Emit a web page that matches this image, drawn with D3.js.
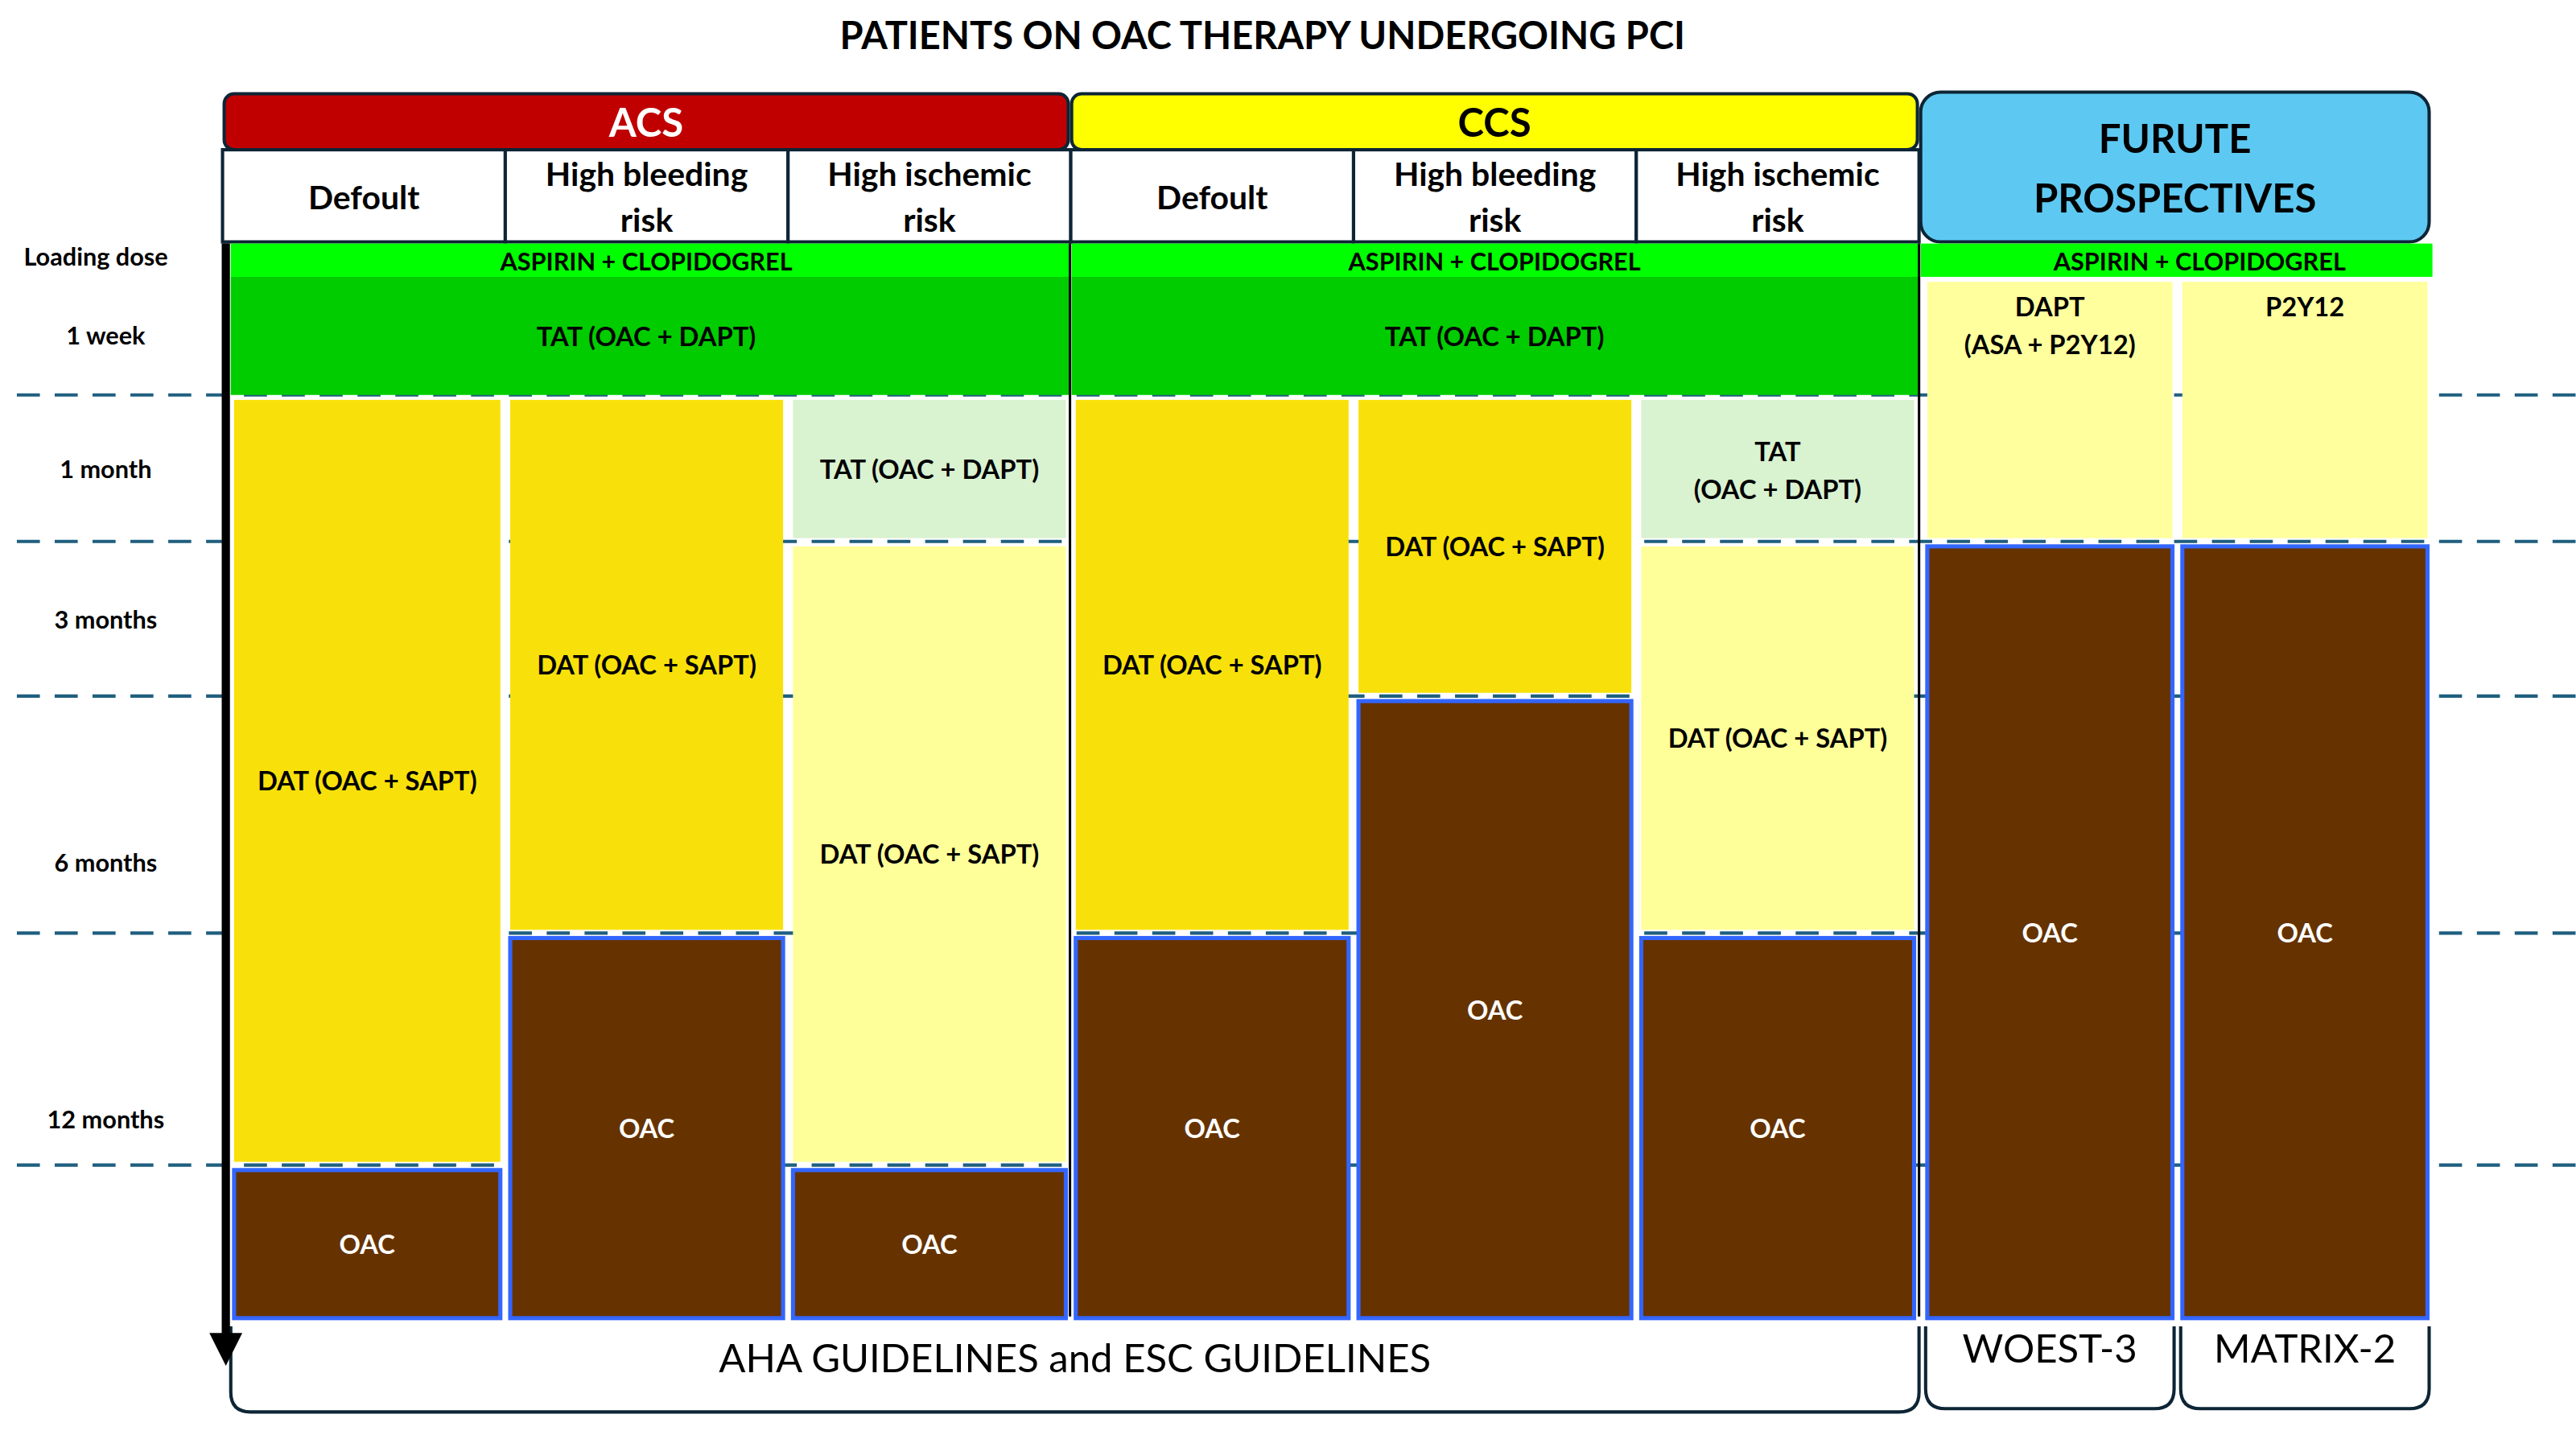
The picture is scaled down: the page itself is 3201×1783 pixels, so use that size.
<!doctype html>
<html>
<head>
<script src="https://d3js.org/d3.v7.min.js"></script>
<style>body{margin:0;background:#fff}</style>
</head>
<body>
<div id="chart"></div>
<script>
// time points: 0 start, 1 end of 1 week, 2 1 month, 3 3 months, 4 6 months, 5 12 months, 6 end
var timeLabels = ["Loading dose", "1 week", "1 month", "3 months", "6 months", "12 months"];
var timeLabelPos = [0.08, 0.6, 1.5, 2.5, 3.7, 4.8];
var dashAt = [1, 2, 3, 4, 5];

var groups = ["ACS", "CCS", "FUTURE"];
var groupTitles = [["ACS"], ["CCS"], ["FURUTE", "PROSPECTIVES"]];
var groupColors = ["#C00000", "#FFFF00", "#5DC9F2"];
var groupText = ["#fff", "#000", "#000"];
var columns = ["ACS-0", "ACS-1", "ACS-2", "CCS-0", "CCS-1", "CCS-2", "F-0", "F-1"];
var colTitles = [["Defoult"], ["High bleeding", "risk"], ["High ischemic", "risk"],
                 ["Defoult"], ["High bleeding", "risk"], ["High ischemic", "risk"]];

// segments: column, start, end, kind, label
var segments = [
  ["ACS-0", 1, 5, "dat", ["DAT (OAC + SAPT)"]], ["ACS-0", 5, 6, "oac", ["OAC"]],
  ["ACS-1", 1, 4, "dat", ["DAT (OAC + SAPT)"]], ["ACS-1", 4, 6, "oac", ["OAC"]],
  ["ACS-2", 1, 2, "tat", ["TAT (OAC + DAPT)"]], ["ACS-2", 2, 5, "datl", ["DAT (OAC + SAPT)"]], ["ACS-2", 5, 6, "oac", ["OAC"]],
  ["CCS-0", 1, 4, "dat", ["DAT (OAC + SAPT)"]], ["CCS-0", 4, 6, "oac", ["OAC"]],
  ["CCS-1", 1, 3, "dat", ["DAT (OAC + SAPT)"]], ["CCS-1", 3, 6, "oac", ["OAC"]],
  ["CCS-2", 1, 2, "tat", ["TAT", "(OAC + DAPT)"]], ["CCS-2", 2, 4, "datl", ["DAT (OAC + SAPT)"]], ["CCS-2", 4, 6, "oac", ["OAC"]],
  ["F-0", 0.22, 2, "dapt", ["DAPT", "(ASA + P2Y12)"]], ["F-0", 2, 6, "oac", ["OAC"]],
  ["F-1", 0.22, 2, "dapt", ["P2Y12"]], ["F-1", 2, 6, "oac", ["OAC"]]
];
var bands = [ // group, start, end, colour, label
  ["ACS", 0, 0.22, "#00FF00", "ASPIRIN + CLOPIDOGREL"], ["ACS", 0.22, 1, "#00CC00", "TAT (OAC + DAPT)"],
  ["CCS", 0, 0.22, "#00FF00", "ASPIRIN + CLOPIDOGREL"], ["CCS", 0.22, 1, "#00CC00", "TAT (OAC + DAPT)"],
  ["FUTURE", 0, 0.22, "#00FF00", "ASPIRIN + CLOPIDOGREL"]
];
var footers = [["AHA GUIDELINES and ESC GUIDELINES", ["ACS", "CCS"]], ["WOEST-3", ["F-0"]], ["MATRIX-2", ["F-1"]]];

var fills = {dat: "#F8E10A", datl: "#FFFF99", tat: "#D9F2D0", dapt: "#FFFF9E", oac: "#663300"};

var W = 1565, H = 872;
var svg = d3.select("#chart").append("svg")
  .attr("width", 3201).attr("height", 1783).attr("viewBox", "0 0 " + W + " " + H)
  .style("font-family", "Lato, 'Open Sans', sans-serif");

var y = d3.scaleLinear().domain([0, 1, 2, 3, 4, 5, 6]).range([148, 240, 329, 423, 567, 708, 803]);
var gx = d3.scaleOrdinal().domain(groups).range([[135, 650], [650, 1166], [1166, 1477]]);
var cx = d3.scaleBand().domain(columns.slice(0, 6)).range([135, 1166]);
var fx = d3.scaleBand().domain(columns.slice(6)).range([1168, 1478]);
function colX(c) { return c[0] === "F" ? fx(c) : cx(c); }
function colW(c) { return c[0] === "F" ? fx.bandwidth() : cx.bandwidth(); }
function grpOf(c) { return c[0] === "F" ? "FUTURE" : c.slice(0, 3); }

svg.append("text").attr("x", 767).attr("y", 30).attr("text-anchor", "middle")
  .attr("font-size", 23).attr("font-weight", "bold").text("PATIENTS ON OAC THERAPY UNDERGOING PCI");

// dashed lines
svg.selectAll(".dash").data(dashAt).enter().append("line")
  .attr("x1", 10).attr("x2", 1565).attr("y1", d => y(d)).attr("y2", d => y(d))
  .attr("stroke", "#1F5F7F").attr("stroke-width", 2).attr("stroke-dasharray", "14,9");

// time labels
svg.selectAll(".tl").data(timeLabels).enter().append("text")
  .attr("x", (d, i) => i === 0 ? 58 : 64).attr("y", (d, i) => y(timeLabelPos[i]) + 6)
  .attr("text-anchor", "middle").attr("font-size", 15).attr("font-weight", "bold").text(d => d);

// group headers
groups.forEach(function (g, i) {
  var r = gx(g);
  var top = i === 2 ? 56 : 57, h = i === 2 ? 91 : 34;
  svg.append("rect").attr("x", r[0] + 1).attr("y", top).attr("width", r[1] - r[0] - 2).attr("height", h)
    .attr("rx", i === 2 ? 12 : 6).attr("fill", groupColors[i]).attr("stroke", "#0D2535").attr("stroke-width", 2);
  var lines = groupTitles[i];
  lines.forEach(function (t, k) {
    svg.append("text").attr("x", (r[0] + r[1]) / 2)
      .attr("y", i === 2 ? 93 + k * 36 : 83).attr("text-anchor", "middle")
      .attr("font-size", 24).attr("font-weight", "bold").attr("fill", groupText[i]).text(t);
  });
});

// column headers
colTitles.forEach(function (lines, i) {
  var c = columns[i];
  svg.append("rect").attr("x", cx(c)).attr("y", 91).attr("width", cx.bandwidth()).attr("height", 56)
    .attr("fill", "#fff").attr("stroke", "#0D2535").attr("stroke-width", 2);
  lines.forEach(function (t, k) {
    svg.append("text").attr("x", cx(c) + cx.bandwidth() / 2)
      .attr("y", lines.length === 1 ? 127 : 113 + k * 28).attr("text-anchor", "middle")
      .attr("font-size", 20).attr("font-weight", "bold").text(t);
  });
});

// green bands
bands.forEach(function (b) {
  var r = gx(b[0]);
  var x0 = b[0] === "ACS" ? r[0] + 5 : r[0] + 1, x1 = b[0] === "FUTURE" ? 1478 : r[1];
  svg.append("rect").attr("x", x0).attr("y", y(b[1])).attr("width", x1 - x0)
    .attr("height", y(b[2]) - y(b[1])).attr("fill", b[3]);
  svg.append("text").attr("x", (r[0] + r[1]) / 2 + (b[0] === "FUTURE" ? 15 : 0))
    .attr("y", (y(b[1]) + y(b[2])) / 2 + 6).attr("text-anchor", "middle")
    .attr("font-size", b[2] < 0.5 ? 15 : 16).attr("font-weight", "bold").text(b[4]);
});

// segments
segments.forEach(function (s) {
  var c = s[0], x0 = colX(c) + 3, w = colW(c) - 6;
  if (c === "ACS-0") { x0 += 4; w -= 4; }
  var y0 = y(s[1]) + 3, y1 = y(s[2]) - 2;
  svg.append("rect").attr("x", x0).attr("y", y0).attr("width", w).attr("height", y1 - y0)
    .attr("fill", fills[s[3]])
    .attr("stroke", s[3] === "oac" ? "#3366FF" : "none").attr("stroke-width", 2.5);
  var my = s[3] === "dapt" ? y0 + 15 : (y0 + y1) / 2 - (s[4].length - 1) * 11;
  s[4].forEach(function (t, k) {
    svg.append("text").attr("x", x0 + w / 2).attr("y", my + k * 23 + 6)
      .attr("text-anchor", "middle").attr("font-size", 16).attr("font-weight", "bold")
      .attr("fill", s[3] === "oac" ? "#fff" : "#000").text(t);
  });
});

// separators
[650, 1166].forEach(function (x) {
  svg.append("line").attr("x1", x).attr("x2", x).attr("y1", 148).attr("y2", 800)
    .attr("stroke", "#000").attr("stroke-width", 1.5);
});

// footers
footers.forEach(function (f) {
  var x0, x1, top, h;
  if (f[1].length > 1) { x0 = 140; x1 = 1166; top = 806; h = 52; }
  else { x0 = fx(f[1][0]) + 2; x1 = x0 + fx.bandwidth() - 4; top = 806; h = 50; }
  var p = d3.path(), r = 12;
  p.moveTo(x0, top); p.lineTo(x0, top + h - r); p.quadraticCurveTo(x0, top + h, x0 + r, top + h);
  p.lineTo(x1 - r, top + h); p.quadraticCurveTo(x1, top + h, x1, top + h - r); p.lineTo(x1, top);
  svg.append("path").attr("d", p.toString()).attr("fill", "none").attr("stroke", "#0D2535").attr("stroke-width", 2);
  svg.append("text").attr("x", (x0 + x1) / 2).attr("y", f[1].length > 1 ? 834 : 828)
    .attr("text-anchor", "middle").attr("font-size", 24).text(f[0]);
});

// time axis arrow
svg.append("line").attr("x1", 137).attr("x2", 137).attr("y1", 148).attr("y2", 812)
  .attr("stroke", "#000").attr("stroke-width", 5);
svg.append("path").attr("d", "M127,810 L147,810 L137,830 Z").attr("fill", "#000");
</script>
</body>
</html>
